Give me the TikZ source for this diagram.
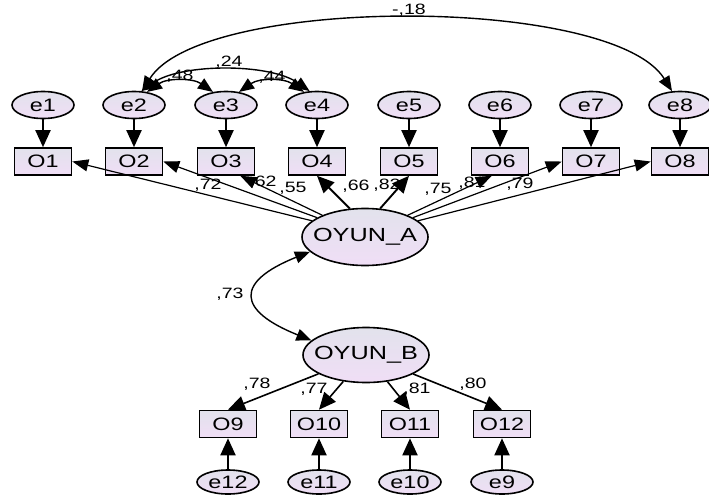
\documentclass[tikz,border=0pt]{standalone}
\usepackage{fontspec}
\usepackage{graphicx}
\setmainfont{Liberation Sans}
\usetikzlibrary{arrows.meta,shapes.geometric}
\definecolor{lavtop}{RGB}{226,226,236}
\definecolor{lavbot}{RGB}{240,222,246}
\newcommand{\wtxt}[1]{\scalebox{1.3}[1]{#1}}
\begin{document}
\begin{tikzpicture}[x=1pt,y=-1pt,
  errv/.style={ellipse, draw, line width=1.6pt, top color=lavtop, bottom color=lavbot,
    minimum width=62pt, minimum height=27pt, inner sep=0pt, font=\fontsize{18}{18}\selectfont},
  obsv/.style={rectangle, draw, line width=1.6pt, top color=lavtop, bottom color=lavbot,
    minimum width=57pt, minimum height=27pt, inner sep=0pt, font=\fontsize{18}{18}\selectfont},
  latv/.style={ellipse, draw, line width=1.6pt, top color=lavtop, bottom color=lavbot,
    minimum width=126pt, minimum height=57pt, inner sep=0pt},
  lattxt/.style={font=\fontsize{19}{19}\selectfont, inner sep=0pt},
  pth/.style={line width=1.9pt, -{Triangle[length=17pt,width=15pt]}},
  fan/.style={line width=1.2pt, -{Triangle[length=16pt,width=12pt]}},
  cov/.style={line width=1.4pt, {Triangle[length=15pt,width=12pt]}-{Triangle[length=15pt,width=12pt]}},
  lbl/.style={font=\fontsize{15}{15}\selectfont, inner sep=0pt}
]
\useasboundingbox (0,0) rectangle (709,498);
% top error terms and indicators
\foreach \i/\x in {1/43,2/134,3/226,4/317,5/409,6/500,7/591,8/680}{
  \node[errv] (e\i) at (\x,105) {\wtxt{e\i}};
  \node[obsv] (O\i) at (\x,161.5) {\wtxt{O\i}};
  \draw[pth] (e\i) -- (O\i);
}
% latent variables
\node[latv, label={[lattxt]center:\scalebox{1.33}[1]{OYUN\_A}}] (A) at (365,237) {};
\node[latv, minimum height=55pt, label={[lattxt]center:\scalebox{1.33}[1]{OYUN\_B}}] (B) at (366,355) {};
% bottom indicators and errors
\node[obsv] (O9)  at (228,424) {\wtxt{O9}};
\node[obsv] (O10) at (319,424) {\wtxt{O10}};
\node[obsv] (O11) at (410,424) {\wtxt{O11}};
\node[obsv] (O12) at (502,424) {\wtxt{O12}};
\node[errv, minimum height=24pt] (e12) at (228,482) {\wtxt{e12}};
\node[errv, minimum height=24pt] (e11) at (319,482) {\wtxt{e11}};
\node[errv, minimum height=24pt] (e10) at (410,482) {\wtxt{e10}};
\node[errv, minimum height=24pt] (e9)  at (502,482) {\wtxt{e9}};
\draw[pth] (e12) -- (O9);
\draw[pth] (e11) -- (O10);
\draw[pth] (e10) -- (O11);
\draw[pth] (e9)  -- (O12);
% loadings OYUN_A
\draw[fan] (A.163) -- (O1.east);
\draw[fan] (A.158) -- (O2.east);
\draw[fan] (A.153) -- (O3.-45);
\draw[pth] (A.118) -- (O4.south);
\draw[pth] (A.62)  -- (O5.south);
\draw[fan] (A.27)  -- (O6.-120);
\draw[fan] (A.22)  -- (O7.west);
\draw[fan] (A.17)  -- (O8.west);
% loadings OYUN_B
\draw[pth, line width=1.6pt] (B) -- (O9.north);
\draw[pth, line width=1.6pt] (B) -- (O10.north);
\draw[pth, line width=1.6pt] (B) -- (O11.north);
\draw[pth, line width=1.6pt] (B) -- (O12.north);
% covariances
\draw[cov] (e2.60) .. controls +(60,-96) and +(-60,-96) .. (e8.120);
\draw[cov] (e2.62) .. controls +(40,-28) and +(-40,-28) .. (e4.118);
\draw[cov] (e2.45) .. controls +(20,-14) and +(-20,-14) .. (e3.135);
\draw[cov] (e3.45) .. controls +(20,-14) and +(-20,-14) .. (e4.135);
\draw[cov] (A.195) .. controls +(-75,30) and +(-75,-30) .. (B.165);
% labels
\node[lbl] (l1) at (208,185) {\wtxt{,72}};
\node[lbl] (l2) at (263,182) {\wtxt{,62}};
\node[lbl] (l3) at (293,188) {\wtxt{,55}};
\node[lbl] (l4) at (356,186) {\wtxt{,66}};
\node[lbl] (l5) at (387,185) {\wtxt{,82}};
\node[lbl] (l6) at (438,189) {\wtxt{,75}};
\node[lbl] (l7) at (472,183) {\wtxt{,81}};
\node[lbl] (l8) at (520,184) {\wtxt{,79}};
\node[lbl] (l9) at (409,10) {\wtxt{-,18}};
\node[lbl] (l10) at (229,62) {\wtxt{,24}};
\node[lbl] (l11) at (180,76) {\wtxt{,48}};
\node[lbl] (l12) at (272,77) {\wtxt{,44}};
\node[lbl] (l13) at (230,294) {\wtxt{,73}};
\node[lbl] (l14) at (257,384) {\wtxt{,78}};
\node[lbl] (l15) at (314,389) {\wtxt{,77}};
\node[lbl] (l16) at (417,389) {\wtxt{,81}};
\node[lbl] (l17) at (473,384) {\wtxt{,80}};
\end{tikzpicture}
\end{document}
